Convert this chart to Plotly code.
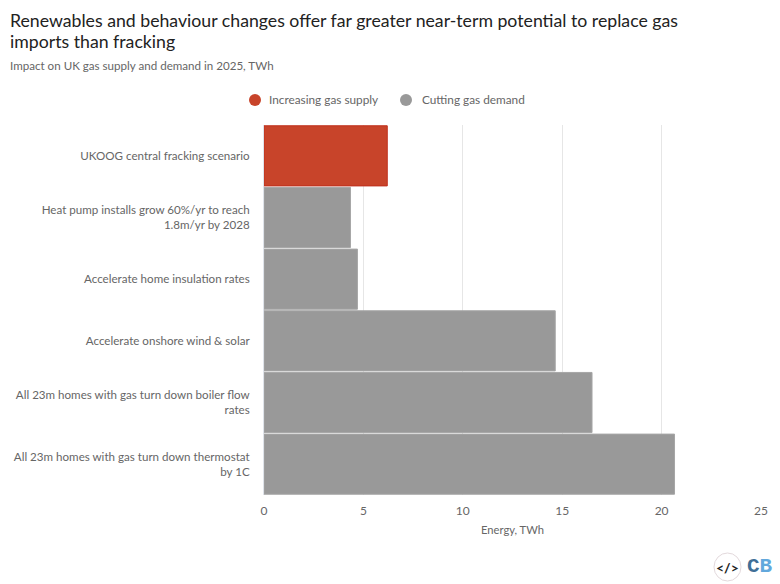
import plotly.graph_objects as go

FONT = "Lato"
TEXT_GREY = "#666666"

title_lines = [
    "Renewables and behaviour changes offer far greater near-term potential to replace gas",
    "imports than fracking",
]
categories = [
    "UKOOG central fracking scenario",
    "Heat pump installs grow 60%/yr to reach<br>1.8m/yr by 2028",
    "Accelerate home insulation rates",
    "Accelerate onshore wind & solar",
    "All 23m homes with gas turn down boiler flow<br>rates",
    "All 23m homes with gas turn down thermostat<br>by 1C",
]
supply_values = [6.2, None, None, None, None, None]
demand_values = [None, 4.35, 4.7, 14.65, 16.5, 20.65]
x_ticks = [0, 5, 10, 15, 20, 25]

RED = "#c8442a"
GREY = "#999999"

# plot area in pixels, used to place the furniture outside it
PLOT_L, PLOT_R, PLOT_T, PLOT_B = 264, 761, 125, 495


def px(x):
    return (x - PLOT_L) / (PLOT_R - PLOT_L)


def py(y):
    return (PLOT_B - y) / (PLOT_B - PLOT_T)


def note(text, x, y, anchor="left", **font):
    fig.add_annotation(text=text, xref="paper", yref="paper", x=px(x), y=py(y), xanchor=anchor,
                       yanchor="middle", showarrow=False, borderpad=0, font=font)


fig = go.Figure()

# bars, overlaid so each one fills its whole category band
fig.add_trace(go.Bar(y=categories, x=supply_values, orientation="h", name="Increasing gas supply",
                     marker=dict(color=RED, line=dict(color="#c0301c", width=1))))
fig.add_trace(go.Bar(y=categories, x=demand_values, orientation="h", name="Cutting gas demand",
                     marker=dict(color=GREY, line=dict(color="#a6a6a6", width=1))))

fig.update_layout(
    width=780, height=584,
    margin=dict(l=PLOT_L, r=780 - PLOT_R, t=PLOT_T, b=584 - PLOT_B),
    paper_bgcolor="white", plot_bgcolor="white",
    font=dict(family=FONT, size=11.5, color=TEXT_GREY),
    barmode="overlay", bargap=0.025, showlegend=False,
)
fig.update_xaxes(range=[0, 25], tickvals=x_ticks, showgrid=True, gridcolor="#e6e6e6", gridwidth=1,
                 zeroline=False, showline=False, ticks="", ticklabelstandoff=7,
                 title=dict(text="Energy, TWh", standoff=9, font=dict(size=11.2, color=TEXT_GREY)),
                 tickfont=dict(size=12, color=TEXT_GREY))
fig.update_yaxes(categoryorder="array", categoryarray=categories[::-1], showgrid=False, ticks="",
                 ticklabelstandoff=11, showline=True, linecolor="#dfe3ea", linewidth=1,
                 tickfont=dict(size=11.6, color=TEXT_GREY))

# title and subtitle
note(title_lines[0], 9, 20, size=17.7, color="#222222")
note(title_lines[1], 9, 41, size=17.7, color="#222222")
note("Impact on UK gas supply and demand in 2025, TWh", 9, 65, size=11.6, color=TEXT_GREY)

# legend with round markers, tighter than the built in one
for trace, marker_x, label_x in zip(fig.data, [255, 406], [268, 421]):
    fig.add_shape(type="circle", xref="paper", yref="paper", x0=px(marker_x - 6), x1=px(marker_x + 6),
                  y0=py(106), y1=py(94), line=dict(color=trace.marker.color, width=0),
                  fillcolor=trace.marker.color)
    note(trace.name, label_x, 99.5, size=11.8, color=TEXT_GREY)

# embed and Carbon Brief badges, bottom right
fig.add_shape(type="circle", xref="paper", yref="paper", x0=px(714), x1=px(741), y0=py(581), y1=py(553),
              line=dict(color="#e3d9dc", width=1), fillcolor="white")
note("<b>&lt;/&gt;</b>", 727.5, 567, anchor="center", size=14, color="#222222")
note("<b><span style='color:#3f6f97'>C</span><span style='color:#62a8dc'>B</span></b>", 759.5, 566,
     anchor="center", family="Liberation Mono", size=21)

fig.write_html("out.html", config=dict(displayModeBar=False), post_script="document.body.style.margin='0';")
